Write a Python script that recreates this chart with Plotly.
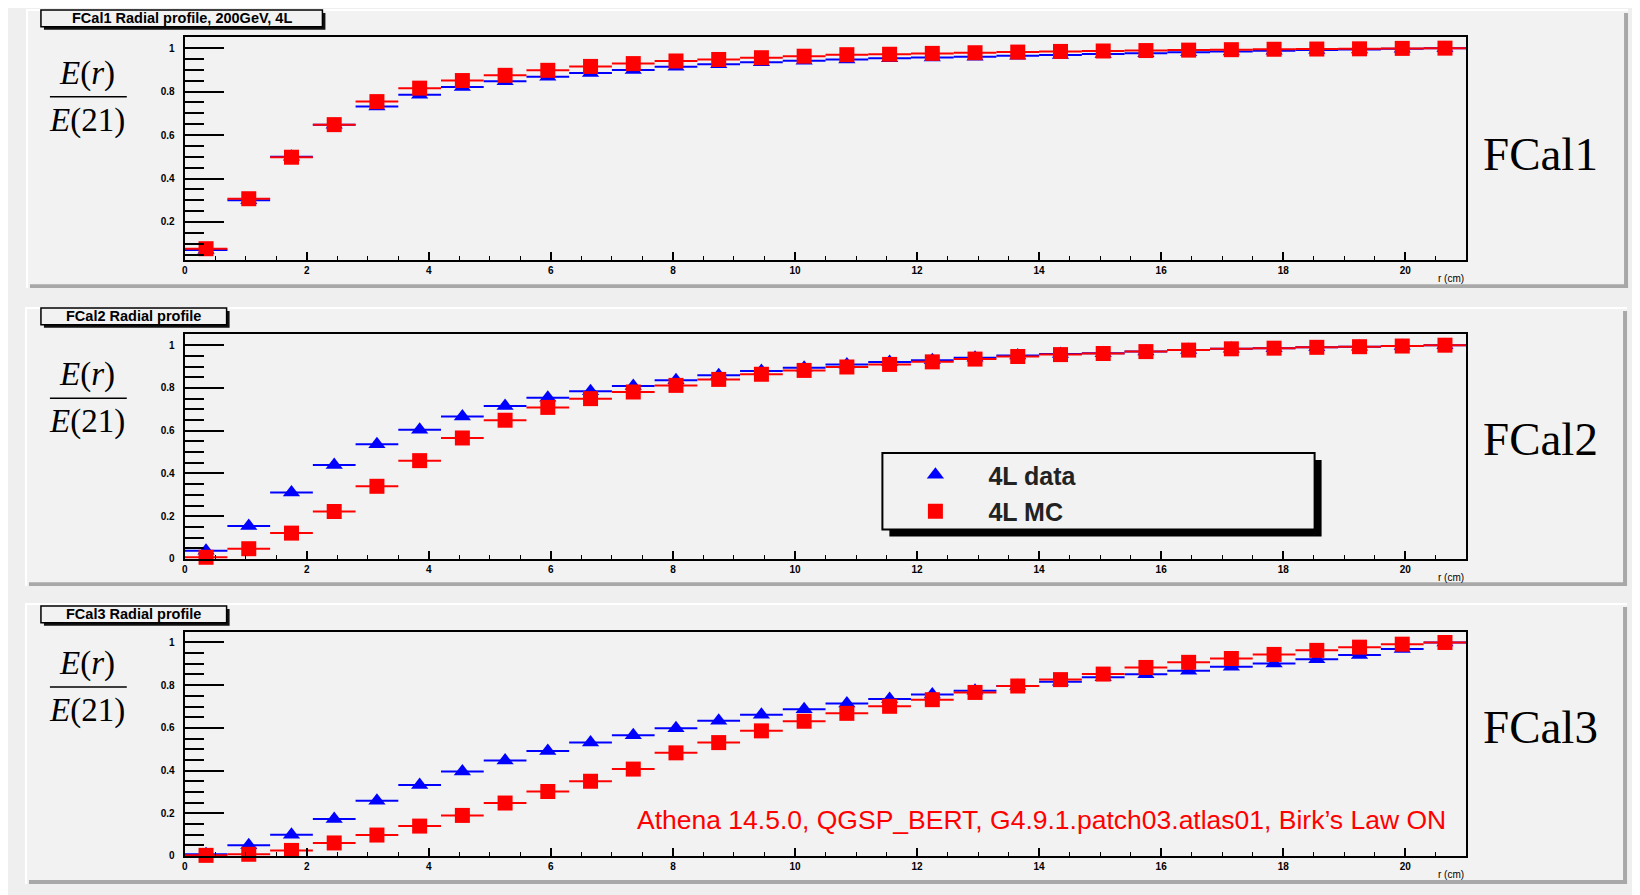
import plotly.graph_objects as go

W, H = 1640, 895
OFF = 8  # page body margin offset seen in the reference screenshot

# ---------------- data ----------------
r_centers = [0.35, 1.05, 1.75, 2.45, 3.15, 3.85, 4.55, 5.25, 5.95, 6.65,
             7.35, 8.05, 8.75, 9.45, 10.15, 10.85, 11.55, 12.25, 12.95, 13.65,
             14.35, 15.05, 15.75, 16.45, 17.15, 17.85, 18.55, 19.25, 19.95, 20.65]
half_bin = [0.35] * len(r_centers)

fcal1_data = [0.071, 0.300, 0.500, 0.648, 0.732, 0.786, 0.821, 0.848, 0.868, 0.886,
              0.900, 0.914, 0.926, 0.935, 0.942, 0.948, 0.953, 0.957, 0.961, 0.965,
              0.969, 0.973, 0.977, 0.981, 0.985, 0.988, 0.991, 0.994, 0.997, 1.000]
fcal1_mc = [0.077, 0.307, 0.498, 0.648, 0.754, 0.816, 0.851, 0.875, 0.898, 0.916,
            0.929, 0.941, 0.948, 0.956, 0.963, 0.970, 0.972, 0.976, 0.979, 0.982,
            0.985, 0.987, 0.989, 0.991, 0.993, 0.995, 0.996, 0.997, 0.999, 1.000]

fcal2_data = [0.039, 0.154, 0.311, 0.440, 0.537, 0.605, 0.666, 0.715, 0.754, 0.784,
              0.809, 0.836, 0.859, 0.879, 0.895, 0.910, 0.921, 0.930, 0.941, 0.952,
              0.959, 0.962, 0.971, 0.977, 0.983, 0.986, 0.990, 0.993, 0.996, 1.000]
fcal2_mc = [0.008, 0.048, 0.121, 0.222, 0.340, 0.460, 0.566, 0.649, 0.709, 0.750,
            0.781, 0.812, 0.840, 0.864, 0.882, 0.898, 0.910, 0.922, 0.935, 0.947,
            0.956, 0.961, 0.970, 0.977, 0.983, 0.986, 0.990, 0.993, 0.996, 1.000]

fcal3_data = [0.008, 0.050, 0.100, 0.173, 0.259, 0.332, 0.396, 0.447, 0.492, 0.531,
              0.565, 0.598, 0.633, 0.662, 0.687, 0.714, 0.735, 0.756, 0.774, 0.796,
              0.816, 0.837, 0.851, 0.868, 0.886, 0.902, 0.921, 0.941, 0.969, 1.000]
fcal3_mc = [0.003, 0.008, 0.026, 0.061, 0.098, 0.140, 0.190, 0.248, 0.302, 0.350,
            0.407, 0.483, 0.531, 0.586, 0.631, 0.668, 0.701, 0.732, 0.766, 0.796,
            0.826, 0.852, 0.883, 0.907, 0.925, 0.944, 0.963, 0.978, 0.992, 1.000]

panel_titles = ["FCal1 Radial profile, 200GeV, 4L", "FCal2 Radial profile", "FCal3 Radial profile"]
panel_labels = ["FCal1", "FCal2", "FCal3"]
series_names = ["4L data", "4L MC"]
note_text = "Athena 14.5.0, QGSP_BERT, G4.9.1.patch03.atlas01, Birk\u2019s Law ON"
x_title = "r (cm)"
y_ranges = [[0.025, 1.05], [0.0, 1.05], [0.0, 1.05]]

panels_data = [(fcal1_data, fcal1_mc), (fcal2_data, fcal2_mc), (fcal3_data, fcal3_mc)]

# ---------------- layout geometry (screen pixels) ----------------
def px(x):
    return (x - OFF) / W

def py(y):
    return 1 - (y - OFF) / H

frame_left, frame_right = 182, 1466
frames = [(37.5, 261.7), (336.7, 562.7), (636.0, 861.7)]   # top, bottom
pads = [(23, 9, 1628, 290), (22, 309, 1627, 590), (22, 607, 1627, 890)]
title_boxes = [(38, 10, 320, 27), (38, 310, 224, 327), (38, 610, 224, 627)]
frac_lines = [97.3, 401.0, 691.7]
label_y = [155, 442, 732]

BLUE = "#0000ff"
RED = "#ff0000"
PAD_BG = "#f2f2f2"

fig = go.Figure()

for i, (dvals, mvals) in enumerate(panels_data):
    ax = "" if i == 0 else str(i + 1)
    fig.add_trace(go.Scatter(
        x=r_centers, y=dvals, mode="markers", name=series_names[0],
        xaxis="x" + ax, yaxis="y" + ax,
        marker=dict(symbol="triangle-up", size=15, color=BLUE),
        error_x=dict(type="data", array=half_bin, width=0, thickness=2, color=BLUE),
        cliponaxis=False, showlegend=(i == 1), legendgroup="data",
    ))
    fig.add_trace(go.Scatter(
        x=r_centers, y=mvals, mode="markers", name=series_names[1],
        xaxis="x" + ax, yaxis="y" + ax,
        marker=dict(symbol="square", size=15, color=RED),
        error_x=dict(type="data", array=half_bin, width=0, thickness=2, color=RED),
        cliponaxis=False, showlegend=(i == 1), legendgroup="mc",
    ))

tickfont = dict(family="Liberation Sans", size=10, color="black", weight="bold")
layout_axes = {}
for i, (top, bot) in enumerate(frames):
    ax = "" if i == 0 else str(i + 1)
    layout_axes["xaxis" + ax] = dict(
        domain=[px(frame_left), px(frame_right)], anchor="y" + ax,
        range=[0, 21], tick0=0, dtick=2, ticks="inside", ticklen=8, tickwidth=1.5,
        tickcolor="black", showline=True, linewidth=2, linecolor="black", mirror=True,
        showgrid=False, zeroline=False, tickfont=tickfont,
        minor=dict(dtick=0.5, ticks="inside", ticklen=4, tickwidth=1, tickcolor="black", showgrid=False),
    )
    layout_axes["yaxis" + ax] = dict(
        domain=[py(bot), py(top)], anchor="x" + ax,
        range=y_ranges[i], tick0=0, dtick=0.2, ticks="inside", ticklen=39, tickwidth=2,
        tickcolor="black", showline=True, linewidth=2, linecolor="black", mirror=True,
        showgrid=False, zeroline=False, tickfont=tickfont, ticklabelstandoff=6,
        minor=dict(dtick=0.05, ticks="inside", ticklen=19, tickwidth=2, tickcolor="black", showgrid=False),
    )

shapes = []
annotations = []
for i in range(3):
    x0, y0, x1, y1 = pads[i]
    shapes.append(dict(type="rect", xref="paper", yref="paper", layer="below",
                       x0=px(x0), x1=px(x1), y0=py(y1), y1=py(y0),
                       fillcolor=PAD_BG, line=dict(width=0)))
    shapes.append(dict(type="line", xref="paper", yref="paper", layer="below",
                       x0=px(x0), x1=px(x1), y0=py(y0 + 1), y1=py(y0 + 1),
                       line=dict(color="#ffffff", width=2)))
    shapes.append(dict(type="line", xref="paper", yref="paper", layer="below",
                       x0=px(x0 + 1), x1=px(x0 + 1), y0=py(y1), y1=py(y0),
                       line=dict(color="#ffffff", width=2)))
    shapes.append(dict(type="rect", xref="paper", yref="paper", layer="below",
                       x0=px(x0 + 4), x1=px(x1), y0=py(y1), y1=py(y1 - 4),
                       fillcolor="#a8a8a8", line=dict(width=0)))
    shapes.append(dict(type="rect", xref="paper", yref="paper", layer="below",
                       x0=px(x1 - 4), x1=px(x1), y0=py(y1), y1=py(y0 + 4),
                       fillcolor="#a8a8a8", line=dict(width=0)))
    bx0, by0, bx1, by1 = title_boxes[i]
    shapes.append(dict(type="rect", xref="paper", yref="paper", layer="above",
                       x0=px(bx0 + 3), x1=px(bx1 + 3), y0=py(by1 + 3), y1=py(by0 + 3),
                       fillcolor="#111111", line=dict(width=0)))
    shapes.append(dict(type="rect", xref="paper", yref="paper", layer="above",
                       x0=px(bx0), x1=px(bx1), y0=py(by1), y1=py(by0),
                       fillcolor=PAD_BG, line=dict(color="black", width=1.5)))
    annotations.append(dict(xref="paper", yref="paper", x=px((bx0 + bx1) / 2), y=py((by0 + by1) / 2),
                            text=panel_titles[i], showarrow=False, xanchor="center", yanchor="middle",
                            font=dict(family="Liberation Sans", size=14.5, color="black", weight="bold")))
    fl = frac_lines[i]
    shapes.append(dict(type="line", xref="paper", yref="paper",
                       x0=px(47), x1=px(124), y0=py(fl), y1=py(fl),
                       line=dict(color="black", width=1.5)))
    annotations.append(dict(xref="paper", yref="paper", x=px(84), y=py(fl - 3),
                            text="<i>E</i>(<i>r</i>)", showarrow=False, xanchor="center", yanchor="bottom",
                            font=dict(family="Liberation Serif", size=33, color="black")))
    annotations.append(dict(xref="paper", yref="paper", x=px(84), y=py(fl + 3),
                            text="<i>E</i>(21)", showarrow=False, xanchor="center", yanchor="top",
                            font=dict(family="Liberation Serif", size=33, color="black")))
    annotations.append(dict(xref="paper", yref="paper", x=px(1540), y=py(label_y[i]),
                            text=panel_labels[i], showarrow=False, xanchor="center", yanchor="middle",
                            font=dict(family="Liberation Serif", size=47, color="black")))
    annotations.append(dict(xref="paper", yref="paper", x=px(frame_right), y=py(frames[i][1] + 19),
                            text=x_title, showarrow=False, xanchor="right", yanchor="middle",
                            font=dict(family="Liberation Sans", size=10, color="black")))

lx0, ly0, lx1, ly1 = 881, 456, 1314, 533
shapes.append(dict(type="rect", xref="paper", yref="paper", layer="above",
                   x0=px(lx0 + 7), x1=px(lx1 + 7), y0=py(ly1 + 7), y1=py(ly0 + 7),
                   fillcolor="#000000", line=dict(width=0)))
shapes.append(dict(type="rect", xref="paper", yref="paper", layer="above",
                   x0=px(lx0), x1=px(lx1), y0=py(ly1), y1=py(ly0),
                   fillcolor=PAD_BG, line=dict(color="black", width=2)))

annotations.append(dict(xref="paper", yref="paper", x=px(1040.5), y=py(825),
                        text=note_text, showarrow=False, xanchor="center", yanchor="middle",
                        font=dict(family="Liberation Sans", size=26.5, color=RED)))

fig.update_layout(
    width=W, height=H, margin=dict(l=0, r=0, t=0, b=0),
    paper_bgcolor="#efefef", plot_bgcolor="rgba(0,0,0,0)",
    shapes=shapes, annotations=annotations,
    legend=dict(x=px(881), y=py(455), xanchor="left", yanchor="top",
                bgcolor="rgba(0,0,0,0)", borderwidth=0, tracegroupgap=1,
                itemwidth=96, font=dict(family="Liberation Sans", size=25, color="#222222", weight="bold")),
    **layout_axes,
)

fig.write_html("out.html")
